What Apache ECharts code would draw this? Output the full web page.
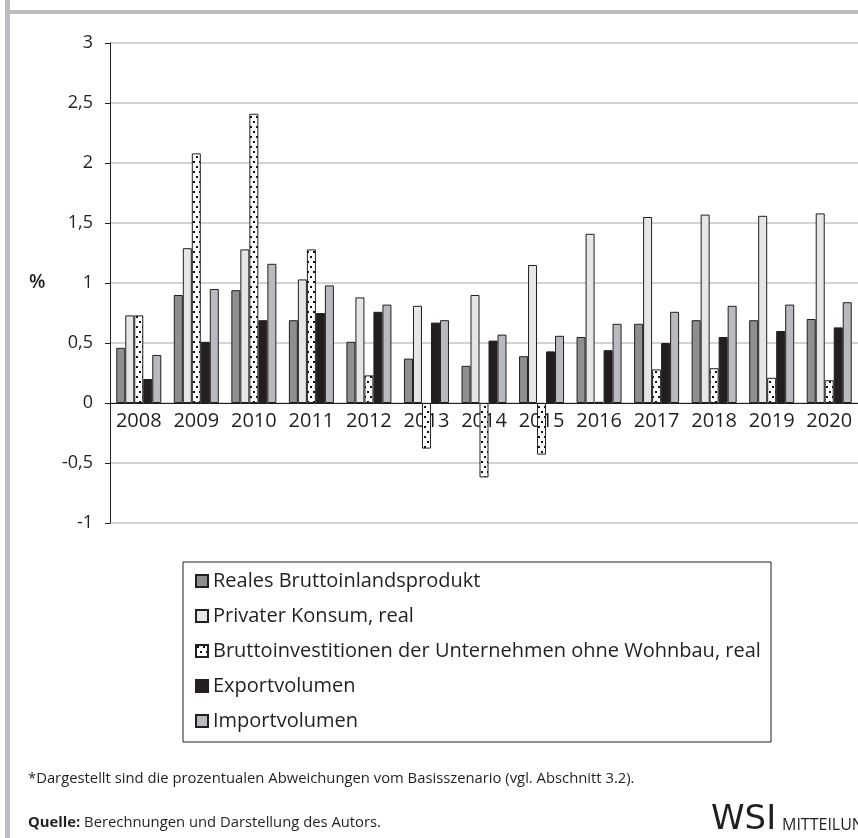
<!DOCTYPE html>
<html lang="de">
  <head>
    <meta charset="UTF-8" />
    <script src="https://cdn.jsdelivr.net/npm/echarts@6/dist/echarts.min.js"></script>
    <title>Abweichungen vom Basisszenario</title>
    <style>
      html, body { margin: 0; padding: 0; background: #fff; }
      #main { width: 858px; height: 838px; }
    </style>
  </head>
  <body>
    <div id="main"></div>
    <script>
      // Jahre
      const years = ["2008", "2009", "2010", "2011", "2012", "2013", "2014", "2015", "2016", "2017", "2018", "2019", "2020"];
      // Abweichungen in %
      const bip = [0.46, 0.90, 0.94, 0.69, 0.51, 0.37, 0.31, 0.39, 0.55, 0.66, 0.69, 0.69, 0.70];
      const konsum = [0.73, 1.29, 1.28, 1.03, 0.88, 0.81, 0.90, 1.15, 1.41, 1.55, 1.57, 1.56, 1.58];
      const invest = [0.73, 2.08, 2.41, 1.28, 0.23, -0.38, -0.62, -0.43, 0.01, 0.28, 0.29, 0.21, 0.19];
      const exportV = [0.20, 0.51, 0.69, 0.75, 0.76, 0.67, 0.52, 0.43, 0.44, 0.50, 0.55, 0.60, 0.63];
      const importV = [0.40, 0.95, 1.16, 0.98, 0.82, 0.69, 0.57, 0.56, 0.66, 0.76, 0.81, 0.82, 0.84];
      const yTicks = { min: -1, max: 3, interval: 0.5 };

      const font = "'Open Sans', 'Noto Sans', sans-serif";
      const ink = "#231f20";

      // Punktmuster fuer die Investitionen
      const pat = document.createElement("canvas");
      pat.width = 6;
      pat.height = 10;
      const pc = pat.getContext("2d");
      pc.fillStyle = "#fff";
      pc.fillRect(0, 0, 6, 10);
      pc.fillStyle = "#111";
      pc.fillRect(1, 1, 2, 2);
      pc.fillRect(4, 6, 2, 2);

      function bar(name, data, color) {
        return {
          name: name,
          type: "bar",
          data: data,
          barWidth: 9,
          barGap: "0%",
          z: 3,
          itemStyle: { color: color, borderColor: ink, borderWidth: 1 },
        };
      }

      const chart = echarts.init(document.getElementById("main"));
      chart.setOption({
        animation: false,
        textStyle: { fontFamily: font, color: ink },
        grid: { left: 110, right: -6, top: 43, bottom: 315 },
        legend: {
          orient: "vertical",
          left: 190,
          top: 566,
          itemGap: 15,
          itemWidth: 12,
          itemHeight: 12,
          icon: "rect",
          textStyle: { fontSize: 20, color: ink, fontFamily: font },
        },
        xAxis: {
          type: "category",
          data: years,
          offset: -120, // Achse auf der Nulllinie
          z: 0,
          axisLine: { onZero: false, lineStyle: { color: ink, width: 1 } },
          axisTick: { length: 5, lineStyle: { color: ink } },
          axisLabel: { fontSize: 20, color: ink, margin: 8, interval: 0, hideOverlap: false },
        },
        yAxis: {
          type: "value",
          min: yTicks.min,
          max: yTicks.max,
          interval: yTicks.interval,
          axisLine: { show: true, lineStyle: { color: ink } },
          axisTick: { show: true, length: 5, lineStyle: { color: ink } },
          axisLabel: {
            fontSize: 18,
            color: ink,
            margin: 17,
            formatter: (v) => String(v).replace(".", ","),
          },
          splitLine: { lineStyle: { color: "#c4c4c4", width: 1.5 } },
        },
        series: [
          bar("Reales Bruttoinlandsprodukt", bip, "#8e8f91"),
          bar("Privater Konsum, real", konsum, "#e6e6e7"),
          bar("Bruttoinvestitionen der Unternehmen ohne Wohnbau, real", invest, { image: pat, repeat: "repeat" }),
          bar("Exportvolumen", exportV, "#231f20"),
          bar("Importvolumen", importV, "#b9babd"),
        ],
        graphic: [
          { type: "rect", shape: { x: 5, y: 0, width: 5, height: 838 }, style: { fill: "#bcbdc0" } },
          { type: "rect", shape: { x: 10, y: 10, width: 848, height: 4 }, style: { fill: "#bcbdc0" } },
          { type: "rect", shape: { x: 183, y: 562, width: 588, height: 180 }, style: { fill: "none", stroke: ink, lineWidth: 1 } },
          { type: "text", left: 29, top: 273, style: { text: "%", font: "600 19px " + font, fill: ink } },
          {
            type: "text", left: 28, top: 771,
            style: { text: "*Dargestellt sind die prozentualen Abweichungen vom Basisszenario (vgl. Abschnitt 3.2).", font: "14.8px " + font, fill: ink },
          },
          {
            type: "text", left: 28, top: 815,
            style: {
              text: "{b|Quelle:} Berechnungen und Darstellung des Autors.",
              font: "14.8px " + font, fill: ink,
              rich: { b: { fontWeight: "bold", fontSize: 14.8, fontFamily: font } },
            },
          },
          { type: "text", left: 711, top: 803, style: { text: "WSI", font: "400 34px 'DejaVu Sans'", fill: ink } },
          { type: "text", left: 782, top: 817, style: { text: "MITTEILUNGEN", font: "16px " + font, fill: ink } },
        ],
      });
    </script>
  </body>
</html>
